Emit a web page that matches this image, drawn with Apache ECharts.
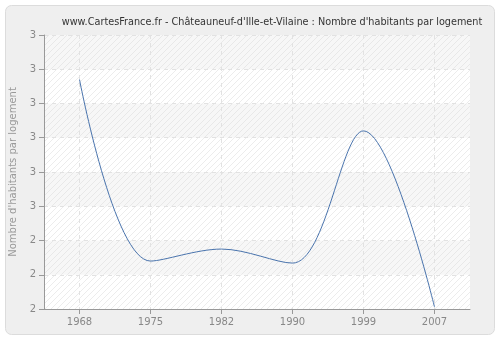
<!DOCTYPE html>
<html><head><meta charset="utf-8">
<script src="https://cdn.jsdelivr.net/npm/echarts@6/dist/echarts.min.js"></script>
<style>html,body{margin:0;padding:0;background:#fff}#c{width:500px;height:340px}</style>
</head><body><div id="c"></div>
<script>
var years = ['1968','1975','1982','1990','1999','2007'];
var values = [3.37, 2.84, 2.875, 2.834, 3.22, 2.706];
var titleText = "www.CartesFrance.fr - Châteauneuf-d'Ille-et-Vilaine : Nombre d'habitants par logement";
var yName = "Nombre d'habitants par logement";

function hatch(bg){
  var c = document.createElement('canvas'); c.width = 6; c.height = 6;
  var g = c.getContext('2d'); g.fillStyle = bg; g.fillRect(0,0,6,6);
  g.strokeStyle = 'rgba(220,220,220,0.55)'; g.lineWidth = 1;
  g.beginPath(); g.moveTo(0,6); g.lineTo(6,0); g.moveTo(-3,3); g.lineTo(3,-3); g.moveTo(3,9); g.lineTo(9,3); g.stroke();
  return {image: c, repeat: 'repeat'};
}
var idx = years.map(function(_, i){ return i; });
var chart = echarts.init(document.getElementById('c'), null, {renderer:'canvas'});
chart.setOption({
  backgroundColor: '#fff',
  animation: false,
  graphic: [{type:'rect', shape:{x:5.5,y:5.5,width:489,height:329,r:6}, style:{fill:'#efefef', stroke:'#dcdcdc', lineWidth:1}, z:-10}],
  title: {text: titleText, left: 267, textAlign:'center', top: 12, textStyle:{fontSize:9.7, fontWeight:'normal', color:'#333', fontFamily:'DejaVu Sans, sans-serif'}},
  grid: {left: 40, right: 30, top: 35, bottom: 31, show: true, backgroundColor: '#fff', borderWidth: 0},
  xAxis: {type:'value', min:-0.5, max:years.length - 0.5, splitNumber:6,
    axisLine:{onZero:false, lineStyle:{color:'#999'}},
    axisTick:{show:true, customValues: idx, length:5, lineStyle:{color:'#999'}},
    axisLabel:{customValues: idx, color:'#888', fontSize:10, margin:8, fontFamily:'DejaVu Sans, sans-serif',
      formatter:function(v){ var i = Math.round(v); return Math.abs(v - i) < 1e-6 && years[i] ? years[i] : ''; }},
    splitLine:{show:true, lineStyle:{color:'#e2e2e2', type:[4,4]}}},
  yAxis: {type:'value', min:2.7, max:3.5, interval:0.1, name: yName, nameLocation:'middle', nameGap:26,
    nameTextStyle:{color:'#999', fontSize:10, fontFamily:'DejaVu Sans, sans-serif'},
    axisLine:{show:true, onZero:false, lineStyle:{color:'#999'}}, axisTick:{show:true, length:5, lineStyle:{color:'#999'}},
    axisLabel:{color:'#888', fontSize:10, margin:8, fontFamily:'DejaVu Sans, sans-serif', formatter:function(v){return String(Math.floor(v + 1e-6));}},
    splitLine:{show:true, lineStyle:{color:'#e2e2e2', type:[4,4]}},
    splitArea:{show:true, areaStyle:{color:[hatch('#ffffff'), hatch('#f7f7f7')]}}},
  series: [{type:'line', data: values.map(function(v, i){ return [i, v]; }), smooth: 0.35, symbol:'none', lineStyle:{color:'#4a74ad', width:1}}]
});
</script></body></html>
